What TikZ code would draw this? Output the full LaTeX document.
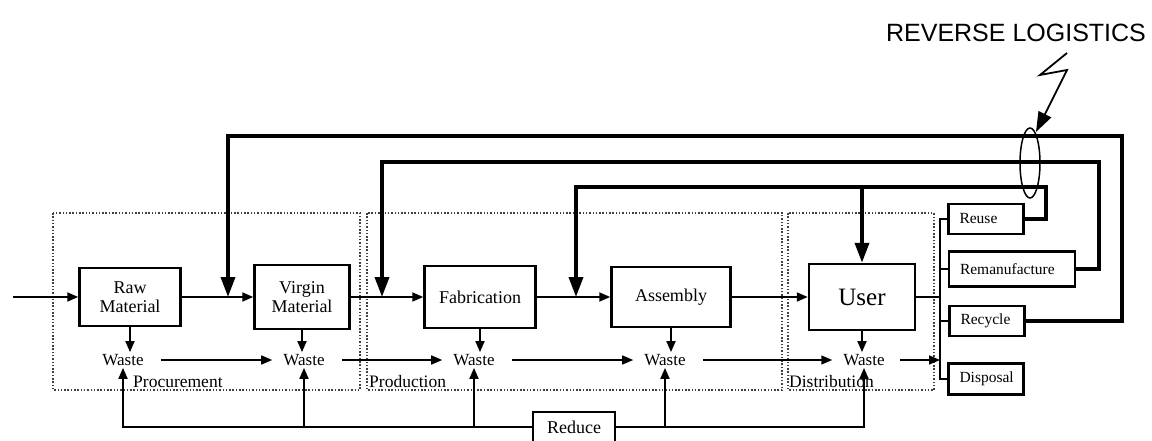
\documentclass[tikz,border=0pt]{standalone}
\usepackage{fontspec}
\setmainfont{Liberation Serif}
\newfontfamily\headfont{Liberation Sans}
\usetikzlibrary{arrows.meta, calc}

\begin{document}
\begin{tikzpicture}[x=1pt, y=-1pt,
  stage/.style={draw, line width=2.5pt, inner sep=0pt, align=center, font=\fontsize{18}{19}\selectfont},
  option/.style={draw, line width=2.2pt, inner ysep=0pt, inner xsep=11pt, align=left, font=\fontsize{15.5}{17}\selectfont},
  waste/.style={inner xsep=11pt, inner ysep=2pt, font=\fontsize{17}{18}\selectfont},
  zone/.style={draw=black!75, line width=1.6pt, dash pattern=on 1.5pt off 1.8pt},
  zonelabel/.style={anchor=west, inner sep=1pt, font=\fontsize{17.5}{19}\selectfont},
  flow/.style={line width=1.8pt, -{Triangle[length=11pt, width=9pt]}},
  feedback/.style={line width=3.6pt, -{Triangle[length=20pt, width=14pt]}}]
  \useasboundingbox (0,0) rectangle (1152,441);

  % Dotted stage areas
  \draw[zone] (53,213) rectangle (360,390);
  \draw[zone] (367,213) rectangle (782,390);
  \draw[zone] (788,213) rectangle (934,390);
  \node[zonelabel] (procurement) at (132,382) {Procurement};
  \node[zonelabel] (production) at (368,382) {Production};
  \node[zonelabel] (distribution) at (788,382) {Distribution};

  % Forward chain
  \node[stage, minimum width=101pt, minimum height=58pt] (raw) at (130,297) {Raw\\Material};
  \node[stage, minimum width=95pt, minimum height=64pt] (virgin) at (302,297) {Virgin\\Material};
  \node[stage, minimum width=111pt, minimum height=62pt] (fab) at (480,297) {Fabrication};
  \node[stage, minimum width=119pt, minimum height=60pt] (asm) at (671,297) {Assembly};
  \node[stage, minimum width=106pt, minimum height=66pt, font=\fontsize{25}{26}\selectfont] (user) at (862,297) {User};

  % End-of-life options
  \node[option, text width=53pt, minimum height=30pt] (reuse) at (986,219) {Reuse};
  \node[option, text width=104pt, minimum height=35pt] (reman) at (1012,269) {Remanufacture};
  \node[option, text width=53pt, minimum height=30pt] (recyc) at (987,321) {Recycle};
  \node[option, text width=53pt, minimum height=31pt] (disp) at (986,379) {Disposal};

  \node[stage, line width=2.2pt, minimum width=82pt, minimum height=30pt] (reduce) at (574,427) {Reduce};

  % Waste at each stage
  \node[waste] (w1) at (123,360) {Waste};
  \node[waste] (w2) at (304,360) {Waste};
  \node[waste] (w3) at (474,360) {Waste};
  \node[waste] (w4) at (665,360) {Waste};
  \node[waste] (w5) at (864,360) {Waste};

  \coordinate (src) at (13,297);
  \coordinate (bus) at (940,219);
  \coordinate (in1) at (228,297);
  \coordinate (in2) at (382,297);
  \coordinate (in3) at (576,297);
  \coordinate (top1) at (1122,136);
  \coordinate (top2) at (1099,162);
  \coordinate (top3) at (1046,187);

  % Main flow
  \draw[flow] (src) -- (raw.west);
  \draw[flow] (raw.east) -- (virgin.west);
  \draw[flow] (virgin.east) -- (fab.west);
  \draw[flow] (fab.east) -- (asm.west);
  \draw[flow] (asm.east) -- (user.west);

  % Waste arrows
  \foreach \st/\w in {raw/w1, virgin/w2, fab/w3, asm/w4, user/w5}
    \draw[flow] (\st.south) -- (\st.south |- \w.north);
  \foreach \a/\b in {w1/w2, w2/w3, w3/w4, w4/w5}
    \draw[flow, line width=1.5pt, shorten <=6pt] (\a.east) -- (\b.west);
  \draw[flow, line width=1.5pt, shorten <=4pt] (w5.east) -- (w5.east -| bus);

  % Reduce line
  \draw[flow] (reduce.west) -| (w1.south);
  \draw[flow] (reduce.east) -| (w5.south);
  \foreach \w in {w2, w3, w4}
    \draw[flow] (\w.south |- reduce.west) -- (\w.south);

  % Distribution bus
  \draw[line width=2pt] (user.east) -- (user.east -| bus);
  \draw[line width=2pt] (reuse.west) -- (bus) |- (disp.west);
  \draw[line width=2pt] (reman.west) -- (reman.west -| bus);
  \draw[line width=2pt] (recyc.west) -- (recyc.west -| bus);

  % Reverse flows
  \draw[feedback] (recyc.east) -| (top1) -| (in1);
  \draw[feedback] (reman.east) -| (top2) -| (in2);
  \draw[feedback] (reuse.east) -| (top3) -| (in3);
  \draw[feedback] (user.north |- top3) -- (user.north);

  % Reverse logistics callout
  \draw[line width=1.5pt] (1030,163) ellipse (10pt and 35pt);
  \node[font=\headfont\fontsize{25}{27}\selectfont] (title) at (1016,33) {REVERSE LOGISTICS};
  \draw[line width=1.8pt, -{Triangle[length=20pt, width=14pt]}]
    (1067,53) -- (1040,75) -- (1067,70) -- (1036,132);

\end{tikzpicture}
\end{document}
